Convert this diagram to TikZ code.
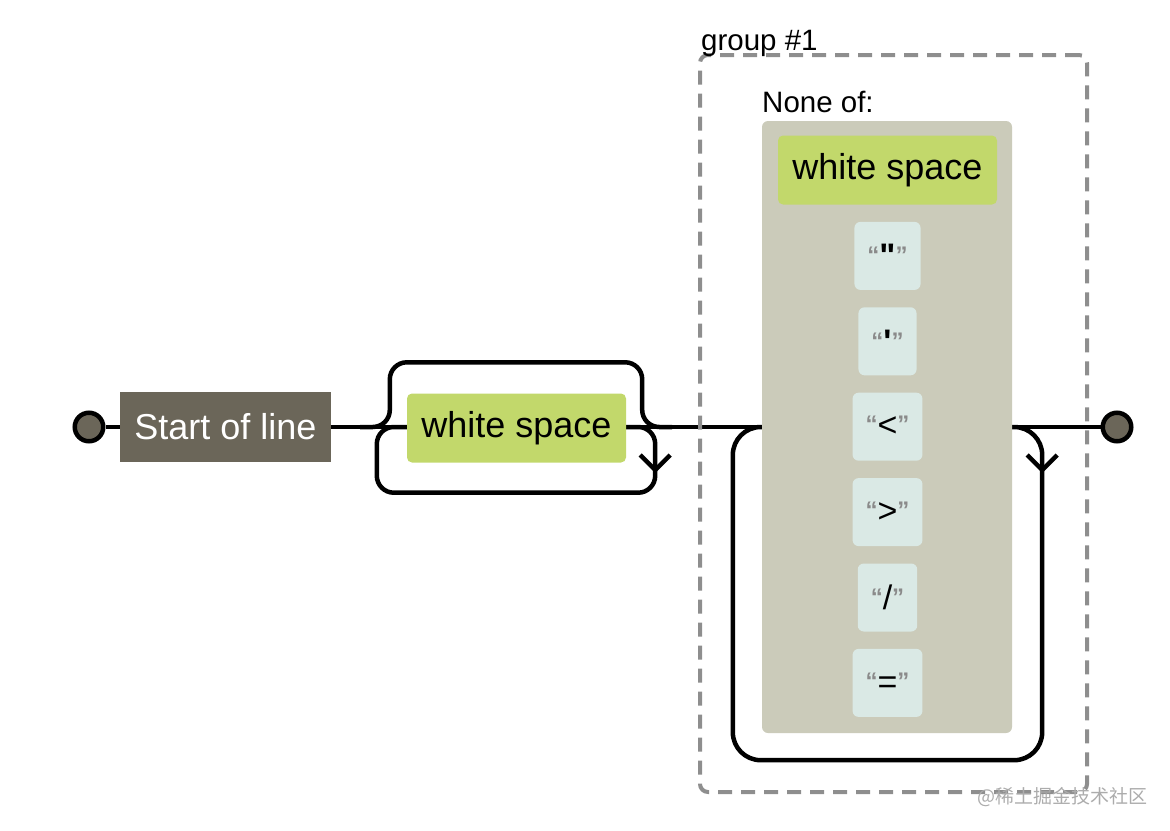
\documentclass[tikz,border=0pt]{standalone}
\usepackage{fontspec}
\setmainfont{Liberation Sans}
\newfontfamily\cjkfont{Noto Sans CJK SC}
\font\rawbold="Liberation Sans/B" at 34pt
\usetikzlibrary{positioning,calc,backgrounds}

\definecolor{anchorgray}{HTML}{6B6659}
\definecolor{escgreen}{HTML}{C2D86B}
\definecolor{litblue}{HTML}{DAE9E5}
\definecolor{setgray}{HTML}{CBCBBA}
\definecolor{dashgray}{HTML}{8E8E8E}
\definecolor{quotegray}{HTML}{8A8A8A}

\newcommand{\quoted}[1]{\raisebox{4pt}{\fontsize{24}{24}\selectfont\bfseries\color{quotegray}“}#1\raisebox{4pt}{\fontsize{24}{24}\selectfont\bfseries\color{quotegray}”}}

\begin{document}
\begin{tikzpicture}[
  x=1pt, y=-1pt,
  every node/.style={font=\fontsize{36}{40}\selectfont},
  terminal/.style={circle, draw, line width=4.5pt, fill=anchorgray,
    minimum size=28.5pt, inner sep=0pt},
  anchorbox/.style={fill=anchorgray, text=white, minimum width=211pt,
    minimum height=70pt},
  escbox/.style={fill=escgreen, rounded corners=5pt, minimum width=219pt,
    minimum height=69pt},
  litbox/.style={fill=litblue, rounded corners=6pt, minimum height=68pt,
    inner xsep=13pt, font=\fontsize{34}{40}\selectfont},
  setbox/.style={fill=setgray, rounded corners=6pt, minimum width=250pt,
    minimum height=612pt},
  groupbox/.style={draw=dashgray, line width=4pt, rounded corners=8pt,
    dash pattern=on 14pt off 9pt, minimum width=387pt, minimum height=737pt},
  caption/.style={font=\fontsize{29.5}{32}\selectfont, inner sep=0pt},
  rail/.style={line width=4.5pt, rounded corners=17pt},
  node distance=17pt
]
\useasboundingbox (0,0) rectangle (1170,830);

\node[terminal] (begin) at (89,427) {};
\node[anchorbox] (sol) at (225.5,427) {Start of line};
\node[escbox] (ws) at (516.5,428) {white space};

\node[groupbox] (grp) at (893.5,423.5) {};
\node[caption, anchor=base west] (grplbl) at (701,50) {group \#1};
\node[setbox] (set) at (887,427) {};
\node[caption, anchor=base west] (nonelbl) at (762,112) {None of:};
\node[escbox] (ws2) at (887.5,170) {white space};
\node[litbox, below=of ws2] (dquote) {\quoted{{\rawbold\char"22}}};
\node[litbox, below=of dquote] (squote) {\quoted{{\rawbold\char"27}}};
\node[litbox, below=of squote] (lt) {\quoted{<}};
\node[litbox, below=of lt] (gt) {\quoted{>}};
\node[litbox, below=of gt] (slash) {\quoted{/}};
\node[litbox, below=of slash] (equal) {\quoted{=}};

\node[terminal] (finish) at (1117,427) {};

\node[font=\cjkfont\fontsize{19}{20}\selectfont, text=gray!65, anchor=east,
  inner sep=0pt] (mark) at (1148,797) {@稀土掘金技术社区};

\begin{scope}[on background layer]
% main line
\draw[rail] (begin) -- (sol);
\draw[rail] (sol) -- (sol -| ws.west);
\draw[rail] (ws.east |- set) -- (set);
\draw[rail] (set) -- (finish);

% skip and repeat round white space
\coordinate (skipl) at ($(ws.north west)+(-17,-31)$);
\coordinate (skipr) at ($(ws.north east)+(16,-31)$);
\draw[rail] ($(sol.east)+(29,0)$) -| (skipl) -- (skipr) |- ($(ws.east |- set)+(46,0)$);
\coordinate (loopr) at ($(ws.south east)+(29,30)$);
\coordinate (loopl) at ($(ws.south west)+(-30,30)$);
\draw[rail] (ws.east |- set) -| (loopr) -- (loopl) |- (sol -| ws.west);
\coordinate (wsbarb) at ($(ws.east |- set)+(29,43)$);
\draw[line width=4.5pt] ($(wsbarb)+(-15,-15)$) -- (wsbarb) -- ($(wsbarb)+(15,-15)$);

% repeat round the set
\coordinate (grpr) at ($(set.south east)+(30,27)$);
\coordinate (grpl) at ($(set.south west)+(-29,27)$);
\draw[rail, rounded corners=28pt] (set.east) -| (grpr) -- (grpl) |- (set.west);
\coordinate (setbarb) at ($(set.east)+(30,43)$);
\draw[line width=4.5pt] ($(setbarb)+(-15,-15)$) -- (setbarb) -- ($(setbarb)+(15,-15)$);
\end{scope}
\end{tikzpicture}
\end{document}
